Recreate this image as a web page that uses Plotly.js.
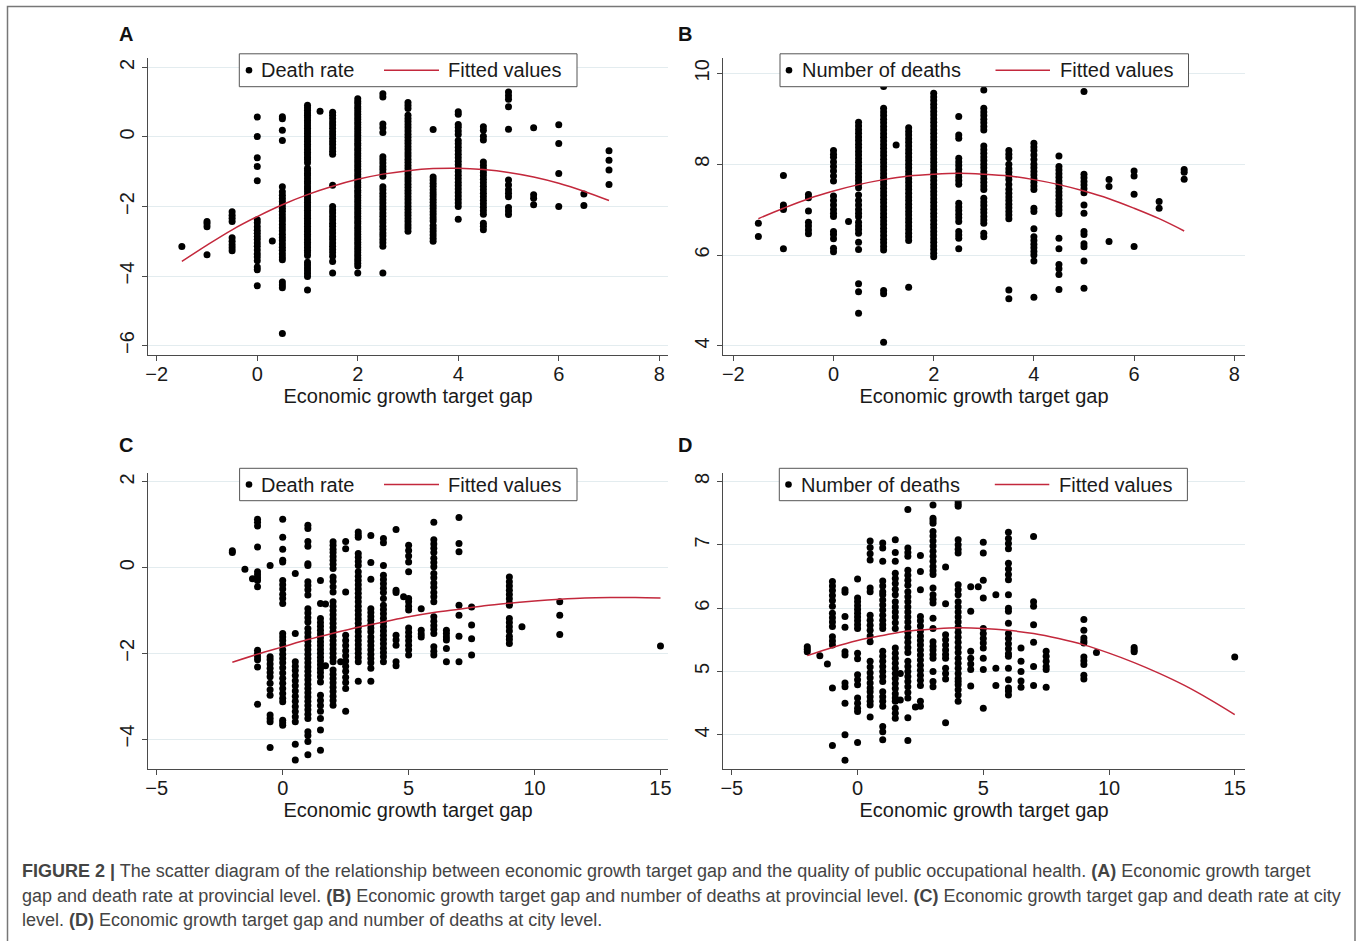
<!DOCTYPE html>
<html><head><meta charset="utf-8">
<script src="https://cdn.plot.ly/plotly-3.0.1.min.js"></script>
<style>html,body{margin:0;padding:0;background:#fff;} #chart{width:1357px;height:941px;}</style>
</head><body><div id="chart"></div>
<script>
// ---------- Panel A: provincial death rate ----------
var aColX = [-1.5, -1, -0.5, 0, 0.3, 0.5, 1, 1.25, 1.5, 2, 2.5, 3, 3.5, 4, 4.5, 5, 5.5, 6, 6.5, 7];
var aColY = [
 [-3.15],
 [-2.43, -2.5, -2.58, -3.39],
 [-2.15, -2.25, -2.34, -2.43, -2.9, -3.0, -3.1, -3.19, -3.27],
 [0.57, 0.01, -0.6, -0.85, -1.26, -2.38, -2.47, -2.58, -2.68, -2.77, -2.86, -2.95, -3.05, -3.14, -3.25, -3.36, -3.45, -3.56, -3.74, -3.82, -4.28],
 [-2.99],
 [0.58, 0.52, 0.19, -0.1, -1.43, -1.58, -1.68, -1.77, -1.86, -1.96, -2.05, -2.14, -2.24, -2.33, -2.42, -2.52, -2.61, -2.7, -2.8, -2.89, -2.98, -3.08, -3.17, -3.26, -3.36, -3.45, -3.53, -4.17, -4.26, -4.34, -5.65],
 [0.91, 0.84, 0.77, 0.69, 0.62, 0.55, 0.47, 0.4, 0.32, 0.25, 0.17, 0.1, 0.02, -0.06, -0.13, -0.21, -0.28, -0.36, -0.44, -0.51, -0.59, -0.66, -0.74, -0.9, -0.97, -1.05, -1.12, -1.2, -1.28, -1.35, -1.43, -1.5, -1.58, -1.66, -1.73, -1.81, -1.88, -1.96, -2.04, -2.11, -2.19, -2.27, -2.34, -2.42, -2.49, -2.57, -2.65, -2.72, -2.8, -2.87, -2.95, -3.03, -3.1, -3.18, -3.26, -3.33, -3.41, -3.6, -3.68, -3.77, -3.85, -3.93, -4.01, -4.4],
 [0.74],
 [0.71, 0.62, 0.53, 0.43, 0.34, 0.25, 0.15, 0.06, -0.04, -0.13, -0.22, -0.32, -0.41, -0.5, -1.39, -2.0, -2.1, -2.19, -2.29, -2.38, -2.48, -2.57, -2.67, -2.76, -2.86, -2.95, -3.05, -3.14, -3.24, -3.33, -3.43, -3.58, -3.91],
 [1.1, 1.02, 0.95, 0.87, 0.8, 0.72, 0.65, 0.57, 0.5, 0.42, 0.35, 0.27, 0.2, 0.12, 0.05, -0.03, -0.1, -0.18, -0.25, -0.33, -0.4, -0.48, -0.55, -0.63, -0.7, -0.78, -0.85, -0.93, -1.0, -1.08, -1.15, -1.23, -1.3, -1.38, -1.45, -1.53, -1.6, -1.68, -1.75, -1.83, -1.9, -1.98, -2.05, -2.13, -2.2, -2.28, -2.35, -2.43, -2.5, -2.58, -2.65, -2.73, -2.8, -2.88, -2.95, -3.03, -3.1, -3.18, -3.25, -3.33, -3.4, -3.48, -3.55, -3.63, -3.71, -3.91],
 [1.24, 1.15, 0.37, 0.26, 0.13, -0.57, -0.66, -0.75, -0.85, -0.94, -1.04, -1.13, -1.43, -1.52, -1.62, -1.71, -1.81, -1.9, -2.0, -2.09, -2.19, -2.28, -2.38, -2.47, -2.57, -2.66, -2.76, -2.85, -2.95, -3.04, -3.14, -3.91],
 [0.99, 0.9, 0.82, 0.62, 0.53, 0.44, 0.35, 0.26, 0.17, 0.08, -0.01, -0.1, -0.19, -0.28, -0.37, -0.46, -0.55, -0.64, -0.73, -0.82, -0.91, -1.0, -1.09, -1.18, -1.27, -1.36, -1.45, -1.54, -1.63, -1.72, -1.81, -1.9, -1.99, -2.08, -2.17, -2.26, -2.35, -2.44, -2.53, -2.62, -2.71],
 [0.21, -1.15, -1.24, -1.33, -1.42, -1.52, -1.61, -1.7, -1.79, -1.88, -1.97, -2.06, -2.15, -2.24, -2.33, -2.42, -2.55, -2.64, -2.73, -2.82, -2.91, -3.0],
 [0.72, 0.65, 0.36, 0.28, 0.17, 0.07, -0.1, -0.2, -0.3, -0.4, -0.5, -0.6, -0.7, -0.8, -0.9, -1.0, -1.1, -1.2, -1.3, -1.4, -1.5, -1.6, -1.7, -1.8, -1.9, -2.0, -2.37],
 [0.29, 0.19, 0.02, -0.09, -0.72, -0.82, -0.92, -1.02, -1.12, -1.22, -1.32, -1.42, -1.52, -1.62, -1.72, -1.82, -1.92, -2.02, -2.12, -2.22, -2.48, -2.57, -2.67],
 [1.29, 1.18, 1.08, 0.87, 0.22, -1.24, -1.38, -1.52, -1.62, -1.72, -2.03, -2.13, -2.23],
 [0.26, -1.66, -1.76, -1.95],
 [0.35, -0.19, -1.05, -2.0],
 [-1.64, -1.97],
 [-0.4, -0.67, -0.95, -1.37]
];
var aFitX = [-1.5, -1, -0.5, 0, 0.5, 1, 1.5, 2, 2.5, 3, 3.5, 4, 4.5, 5, 5.5, 6, 6.5, 7];
var aFitY = [-3.58, -3.11, -2.67, -2.29, -1.95, -1.66, -1.42, -1.22, -1.07, -0.97, -0.91, -0.90, -0.94, -1.02, -1.15, -1.33, -1.56, -1.83];

// ---------- Panel B: provincial number of deaths ----------
var bColX = [-1.5, -1, -0.5, 0, 0.3, 0.5, 1, 1.25, 1.5, 2, 2.5, 3, 3.5, 4, 4.5, 5, 5.5, 6, 6.5, 7];
var bColY = [
 [6.7, 6.41],
 [7.75, 7.1, 7.05, 7.0, 6.14],
 [7.33, 7.26, 6.97, 6.72, 6.64, 6.55, 6.47],
 [8.3, 8.22, 8.15, 8.05, 7.95, 7.85, 7.74, 7.63, 7.3, 7.2, 7.1, 7.0, 6.92, 6.85, 6.52, 6.45, 6.36, 6.15, 6.07],
 [6.74],
 [8.92, 8.84, 8.76, 8.68, 8.6, 8.52, 8.44, 8.36, 8.28, 8.2, 8.12, 8.04, 7.96, 7.88, 7.8, 7.72, 7.64, 7.56, 7.48, 7.32, 7.2, 7.1, 7.0, 6.92, 6.84, 6.72, 6.64, 6.56, 6.48, 6.28, 6.12, 5.37, 5.19, 4.72],
 [9.71, 9.23, 9.15, 9.07, 8.99, 8.91, 8.83, 8.75, 8.67, 8.59, 8.51, 8.43, 8.35, 8.27, 8.19, 8.11, 8.03, 7.95, 7.87, 7.79, 7.71, 7.63, 7.55, 7.47, 7.39, 7.31, 7.23, 7.15, 7.07, 6.99, 6.91, 6.83, 6.75, 6.67, 6.59, 6.51, 6.43, 6.35, 6.27, 6.19, 6.11, 5.22, 5.15, 4.08],
 [8.42],
 [8.8, 8.72, 8.64, 8.56, 8.48, 8.4, 8.32, 8.24, 8.16, 8.08, 8.0, 7.92, 7.84, 7.76, 7.68, 7.6, 7.52, 7.44, 7.36, 7.28, 7.2, 7.12, 7.04, 6.96, 6.88, 6.8, 6.72, 6.64, 6.56, 6.48, 6.4, 6.32, 5.29],
 [9.56, 9.48, 9.4, 9.32, 9.24, 9.16, 9.08, 9.0, 8.92, 8.84, 8.76, 8.68, 8.6, 8.52, 8.44, 8.36, 8.28, 8.2, 8.12, 8.04, 7.96, 7.88, 7.8, 7.72, 7.64, 7.56, 7.48, 7.4, 7.32, 7.24, 7.16, 7.08, 7.0, 6.92, 6.84, 6.76, 6.68, 6.6, 6.52, 6.44, 6.36, 6.28, 6.2, 6.12, 6.04, 5.96],
 [9.05, 8.64, 8.57, 8.13, 8.05, 7.97, 7.89, 7.8, 7.72, 7.64, 7.56, 7.14, 7.06, 6.98, 6.9, 6.82, 6.74, 6.52, 6.44, 6.37, 6.14],
 [9.63, 9.23, 9.15, 9.07, 8.99, 8.91, 8.83, 8.75, 8.4, 8.32, 8.24, 8.16, 8.08, 8.0, 7.92, 7.84, 7.76, 7.68, 7.6, 7.52, 7.44, 7.25, 7.17, 7.09, 7.01, 6.93, 6.85, 6.77, 6.7, 6.48, 6.4],
 [8.3, 8.22, 8.14, 8.0, 7.9, 7.82, 7.74, 7.66, 7.55, 7.45, 7.36, 7.28, 7.2, 7.12, 7.04, 6.96, 6.88, 6.8, 5.23, 5.04],
 [8.46, 8.38, 8.3, 8.2, 8.1, 8.0, 7.92, 7.84, 7.76, 7.68, 7.6, 7.52, 7.44, 7.03, 6.96, 6.58, 6.4, 6.32, 6.24, 6.16, 6.08, 6.0, 5.87, 5.07],
 [8.18, 7.95, 7.87, 7.79, 7.71, 7.63, 7.55, 7.47, 7.39, 7.31, 7.23, 7.15, 7.07, 6.99, 6.91, 6.37, 6.14, 5.79, 5.7, 5.57, 5.24],
 [9.6, 7.78, 7.7, 7.62, 7.54, 7.46, 7.37, 7.1, 6.92, 6.52, 6.45, 6.25, 6.18, 5.87, 5.27],
 [7.66, 7.51, 6.3],
 [7.85, 7.74, 7.34, 6.19],
 [7.18, 7.03],
 [7.88, 7.82, 7.67]
];
var bFitX = [-1.5, -1, -0.5, 0, 0.5, 1, 1.5, 2, 2.5, 3, 3.5, 4, 4.5, 5, 5.5, 6, 6.5, 7];
var bFitY = [6.80, 7.03, 7.24, 7.41, 7.55, 7.66, 7.74, 7.78, 7.80, 7.78, 7.74, 7.66, 7.55, 7.41, 7.24, 7.03, 6.80, 6.53];

// ---------- Panel C: city death rate ----------
var cColX = [-2, -1.5, -1.2, -1, -0.5, 0, 0.5, 1, 1.5, 1.7, 2, 2.3, 2.5, 3, 3.5, 4, 4.5, 4.8, 5, 5.5, 6, 6.5, 7, 7.5, 9, 9.5, 11, 15];
var cColY = [
 [0.39, 0.35],
 [-0.04],
 [-0.26],
 [1.13, 1.06, 0.97, 0.48, -0.1, -0.17, -0.24, -0.3, -0.45, -1.93, -2.0, -2.08, -2.15, -2.32, -3.19],
 [0.05, -2.08, -2.15, -2.25, -2.35, -2.45, -2.55, -2.7, -2.85, -2.98, -3.44, -3.52, -3.6, -4.2],
 [1.13, 0.71, 0.43, 0.17, 0.13, -0.3, -0.4, -0.5, -0.62, -0.72, -0.84, -1.54, -1.62, -1.7, -1.8, -1.92, -2.02, -2.12, -2.22, -2.34, -2.46, -2.58, -2.7, -2.82, -2.94, -3.05, -3.13, -3.56, -3.62, -3.68],
 [-0.14, -1.54, -2.2, -2.3, -2.4, -2.52, -2.64, -2.76, -2.88, -3.0, -3.12, -3.24, -3.36, -3.48, -3.6, -4.12, -4.49],
 [0.99, 0.91, 0.61, 0.5, 0.09, 0.05, -0.33, -0.42, -0.52, -0.64, -0.96, -1.06, -1.17, -1.27, -1.42, -1.52, -1.62, -1.72, -1.82, -1.92, -2.02, -2.12, -2.22, -2.32, -2.42, -2.52, -2.62, -2.72, -2.82, -2.92, -3.02, -3.12, -3.22, -3.32, -3.42, -3.52, -3.83, -3.92, -4.06, -4.37],
 [-0.3, -0.84, -1.19, -1.28, -1.37, -1.46, -1.55, -1.64, -1.73, -1.82, -1.91, -2.0, -2.09, -2.18, -2.27, -2.36, -2.45, -2.55, -2.67, -2.98, -3.1, -3.22, -3.35, -3.52, -3.79, -4.26],
 [-0.85, -2.29],
 [0.6, 0.52, 0.43, 0.35, 0.26, 0.17, 0.08, -0.02, -0.22, -0.32, -0.45, -0.57, -0.8, -0.9, -1.0, -1.1, -1.2, -1.3, -1.4, -1.5, -1.6, -1.7, -1.8, -1.9, -2.0, -2.1, -2.2, -2.39, -2.49, -2.59, -2.69, -2.79, -2.89, -3.0, -3.1, -3.21],
 [-2.2],
 [0.61, 0.44, -0.57, -1.58, -1.7, -1.82, -1.94, -2.06, -2.18, -2.3, -2.42, -2.56, -2.68, -2.82, -3.35],
 [0.83, 0.76, 0.71, 0.33, 0.24, 0.14, 0.05, -0.1, -0.2, -0.3, -0.4, -0.5, -0.6, -0.7, -0.8, -0.9, -1.0, -1.1, -1.2, -1.3, -1.4, -1.5, -1.6, -1.7, -1.8, -1.9, -2.0, -2.1, -2.2, -2.65],
 [0.75, 0.12, -0.27, -0.96, -1.05, -1.14, -1.23, -1.32, -1.41, -1.5, -1.62, -1.72, -1.82, -1.92, -2.02, -2.12, -2.22, -2.35, -2.65],
 [0.68, 0.58, 0.05, -0.18, -0.28, -0.38, -0.48, -0.58, -0.72, -0.88, -0.98, -1.08, -1.18, -1.28, -1.38, -1.48, -1.58, -1.68, -1.78, -1.88, -1.98, -2.08, -2.2],
 [0.89, -0.53, -0.58, -1.58, -1.69, -1.81, -2.2, -2.29],
 [-0.68],
 [0.52, 0.4, 0.27, 0.13, -0.1, -0.72, -0.8, -0.9, -0.99, -1.41, -1.51, -1.61, -1.71, -1.81, -1.92, -2.04],
 [-0.96, -1.46, -1.55, -1.62],
 [1.06, 0.65, 0.55, 0.45, 0.35, 0.22, 0.12, 0.02, -0.14, -0.24, -0.36, -0.46, -0.58, -0.68, -0.8, -1.15, -1.25, -1.35, -1.44, -1.54, -1.85, -1.95, -2.04],
 [-1.46, -1.54, -1.62, -1.69, -1.89, -2.2],
 [1.17, 0.56, 0.37, -0.88, -1.11, -1.6, -2.2],
 [-0.92, -1.34, -1.66, -2.04],
 [-0.22, -0.33, -0.43, -0.53, -0.63, -0.73, -0.83, -0.88, -1.19, -1.28, -1.38, -1.48, -1.6, -1.68, -1.77],
 [-1.38],
 [-0.8, -1.11, -1.56],
 [-1.83]
];
var cFitX = [-2, -1, 0, 1, 2, 3, 4, 5, 6, 7, 8, 9, 10, 11, 12, 13, 14, 15];
var cFitY = [-2.21, -2.02, -1.85, -1.68, -1.53, -1.39, -1.27, -1.15, -1.05, -0.97, -0.89, -0.83, -0.78, -0.74, -0.71, -0.70, -0.70, -0.71];

// ---------- Panel D: city number of deaths ----------
var dColX = [-2, -1.5, -1.2, -1, -0.5, 0, 0.5, 1, 1.5, 1.7, 2, 2.3, 2.5, 3, 3.5, 4, 4.5, 4.8, 5, 5.5, 6, 6.5, 7, 7.5, 9, 9.5, 11, 15];
var dColY = [
 [5.39, 5.35, 5.31],
 [5.25],
 [5.12],
 [6.42, 6.35, 6.28, 6.2, 6.12, 6.03, 5.92, 5.85, 5.78, 5.71, 5.55, 5.48, 5.42, 4.74, 3.83],
 [6.29, 6.25, 5.87, 5.7, 5.31, 5.26, 4.82, 4.76, 4.5, 4.0, 3.6],
 [6.46, 6.16, 6.1, 6.04, 5.98, 5.92, 5.86, 5.8, 5.74, 5.68, 5.29, 5.2, 4.95, 4.87, 4.79, 4.58, 4.5, 4.42, 4.37, 3.88],
 [7.06, 6.96, 6.86, 6.76, 6.32, 6.26, 5.89, 5.81, 5.73, 5.65, 5.56, 5.47, 5.16, 5.07, 4.98, 4.9, 4.82, 4.74, 4.68, 4.6, 4.53, 4.47, 4.28],
 [7.03, 6.95, 6.74, 6.43, 6.35, 6.26, 6.21, 6.13, 6.05, 5.97, 5.89, 5.81, 5.74, 5.68, 5.32, 5.24, 5.16, 5.08, 5.0, 4.92, 4.84, 4.68, 4.6, 4.53, 4.45, 4.13, 4.05, 3.92],
 [7.08, 6.88, 6.74, 6.55, 6.47, 6.39, 6.3, 6.21, 6.1, 6.02, 5.94, 5.86, 5.77, 5.68, 5.37, 5.29, 5.21, 5.13, 5.05, 4.97, 4.89, 4.81, 4.73, 4.65, 4.58, 4.53, 4.42, 4.34, 4.26],
 [4.97, 4.55],
 [7.56, 6.95, 6.88, 6.82, 6.6, 6.52, 6.44, 6.36, 6.26, 6.18, 6.1, 6.02, 5.94, 5.86, 5.78, 5.7, 5.62, 5.54, 5.46, 5.38, 5.3, 5.16, 5.08, 5.0, 4.92, 4.84, 4.76, 4.67, 4.58, 4.27, 3.91],
 [4.44],
 [6.83, 6.58, 6.29, 5.87, 5.8, 5.72, 5.64, 5.56, 5.49, 5.42, 5.34, 5.26, 5.18, 5.1, 5.02, 4.94, 4.86, 4.78, 4.53, 4.45],
 [7.63, 7.42, 7.38, 7.34, 7.21, 7.14, 7.06, 6.98, 6.9, 6.82, 6.74, 6.66, 6.59, 6.53, 6.32, 6.21, 6.14, 6.08, 5.84, 5.68, 5.47, 5.4, 5.34, 5.27, 5.21, 5.0, 4.84, 4.76],
 [6.65, 6.07, 5.58, 5.5, 5.42, 5.34, 5.27, 5.21, 5.05, 4.97, 4.88, 4.19],
 [7.68, 7.64, 7.61, 7.08, 7.0, 6.93, 6.87, 6.37, 6.29, 6.21, 6.1, 6.02, 5.94, 5.86, 5.78, 5.7, 5.62, 5.54, 5.46, 5.38, 5.3, 5.21, 5.13, 5.05, 4.97, 4.89, 4.84, 4.79, 4.71, 4.63, 4.53],
 [6.34, 5.95, 5.32, 5.21, 5.12, 5.03, 4.77],
 [6.34],
 [7.04, 6.87, 6.44, 6.16, 5.68, 5.6, 5.52, 5.45, 5.37, 5.21, 5.03, 4.42],
 [6.21, 5.05, 4.78],
 [7.2, 7.1, 7.02, 6.94, 6.71, 6.62, 6.53, 6.45, 6.21, 6.0, 5.95, 5.76, 5.6, 5.52, 5.44, 5.36, 5.28, 5.24, 5.05, 4.87, 4.74, 4.69, 4.63],
 [5.37, 5.16, 5.0, 4.85, 4.75],
 [7.13, 6.1, 6.03, 5.74, 5.46, 5.08, 4.78],
 [5.32, 5.24, 5.16, 5.08, 5.03, 4.75],
 [5.82, 5.65, 5.53, 5.48, 5.45, 5.23, 5.17, 5.11, 4.94, 4.88],
 [5.3],
 [5.38, 5.34, 5.31],
 [5.23]
];
var dFitX = [-2, -1, 0, 1, 2, 3, 4, 5, 6, 7, 8, 9, 10, 11, 12, 13, 14, 15];
var dFitY = [5.25, 5.38, 5.49, 5.57, 5.64, 5.67, 5.69, 5.68, 5.65, 5.60, 5.52, 5.42, 5.29, 5.14, 4.97, 4.78, 4.56, 4.32];

// ---------- labels ----------
var xTitle = 'Economic growth target gap';
var nameRate = 'Death rate';
var nameDeaths = 'Number of deaths';
var nameFit = 'Fitted values';
var panelLabels = ['A', 'B', 'C', 'D'];
var captionLines = [
 '<b>FIGURE 2 |</b> The scatter diagram of the relationship between economic growth target gap and the quality of public occupational health. <b>(A)</b> Economic growth target',
 'gap and death rate at provincial level. <b>(B)</b> Economic growth target gap and number of deaths at provincial level. <b>(C)</b> Economic growth target gap and death rate at city',
 'level. <b>(D)</b> Economic growth target gap and number of deaths at city level.'
];

// ---------- build ----------
function flatten(xs, ys) {
  var X = [], Y = [];
  xs.forEach(function (x, i) { ys[i].forEach(function (v) { X.push(x); Y.push(v); }); });
  return {x: X, y: Y};
}
var FONT = '"Liberation Sans", Arial, Helvetica, sans-serif';
var RED = '#c3283c';
var W = 1357, H = 941;

function scatterTrace(xs, ys, name, ax) {
  var f = flatten(xs, ys);
  return {type: 'scatter', mode: 'markers', x: f.x, y: f.y, name: name,
    xaxis: ax[0], yaxis: ax[1], showlegend: false,
    marker: {color: '#000', size: 7, line: {width: 0}}, hoverinfo: 'x+y'};
}
function fitTrace(xs, ys, ax) {
  return {type: 'scatter', mode: 'lines', x: xs, y: ys, name: nameFit,
    xaxis: ax[0], yaxis: ax[1], showlegend: false,
    line: {color: RED, width: 1.5, shape: 'spline'}};
}

var data = [
  scatterTrace(aColX, aColY, nameRate, ['x', 'y']),
  fitTrace(aFitX, aFitY, ['x', 'y']),
  scatterTrace(bColX, bColY, nameDeaths, ['x2', 'y2']),
  fitTrace(bFitX, bFitY, ['x2', 'y2']),
  scatterTrace(cColX, cColY, nameRate, ['x3', 'y3']),
  fitTrace(cFitX, cFitY, ['x3', 'y3']),
  scatterTrace(dColX, dColY, nameDeaths, ['x4', 'y4']),
  fitTrace(dFitX, dFitY, ['x4', 'y4'])
];

function px(v) { return v / W; }
function py(v) { return 1 - v / H; }

var AXC = '#4a4a4a';
function xAxis(domain, range, dtick, anchor) {
  return {domain: domain, range: range, dtick: dtick, tick0: 0, anchor: anchor,
    showline: true, linecolor: AXC, linewidth: 1, ticks: 'outside', ticklen: 5,
    tickcolor: AXC, tickwidth: 1, showgrid: false, zeroline: false, ticklabelstandoff: -4,
    tickfont: {family: FONT, size: 20, color: '#1a1a1a'},
    title: {text: xTitle, font: {family: FONT, size: 20, color: '#1a1a1a'}, standoff: 0},
    fixedrange: true};
}
function yAxis(domain, range, dtick, anchor) {
  return {domain: domain, range: range, dtick: dtick, tick0: 0, anchor: anchor,
    showline: true, linecolor: AXC, linewidth: 1, ticks: 'outside', ticklen: 5,
    tickcolor: AXC, tickwidth: 1, showgrid: true, gridcolor: '#e3ecef', gridwidth: 1,
    zeroline: false, tickangle: -90,
    tickfont: {family: FONT, size: 20, color: '#1a1a1a'}, fixedrange: true};
}

var xdL = [px(147.7), px(668.3)], xdR = [px(723.3), px(1244.8)];
var ydT = [py(355), py(58.3)], ydB = [py(769), py(473.3)];

var annotations = [];
var shapes = [];

// legends (box, marker dot, fit line, labels)
var legendBoxes = [
  {x0: 239.3, x1: 577, y0: 53.8, y1: 86.7, dot: 249, t1: 259, l0: 384, l1: 439, t2: 446, n1: nameRate},
  {x0: 780, x1: 1188.5, y0: 53.8, y1: 86.7, dot: 789, t1: 800, l0: 995.5, l1: 1050, t2: 1057.5, n1: nameDeaths},
  {x0: 239.6, x1: 577, y0: 468.3, y1: 500.7, dot: 249, t1: 259, l0: 384, l1: 439, t2: 446, n1: nameRate},
  {x0: 779.3, x1: 1187.4, y0: 468.3, y1: 500.7, dot: 788.5, t1: 799, l0: 994.8, l1: 1049.3, t2: 1056.5, n1: nameDeaths}
];
legendBoxes.forEach(function (L) {
  var cy = (L.y0 + L.y1) / 2;
  shapes.push({type: 'rect', xref: 'paper', yref: 'paper', x0: px(L.x0), x1: px(L.x1), y0: py(L.y1), y1: py(L.y0),
    line: {color: '#555', width: 1}, fillcolor: '#fff', layer: 'above'});
  shapes.push({type: 'circle', xref: 'paper', yref: 'paper', x0: px(L.dot - 3.3), x1: px(L.dot + 3.3),
    y0: py(cy + 3.3), y1: py(cy - 3.3), line: {width: 0}, fillcolor: '#000', layer: 'above'});
  shapes.push({type: 'line', xref: 'paper', yref: 'paper', x0: px(L.l0), x1: px(L.l1), y0: py(cy), y1: py(cy),
    line: {color: RED, width: 1.5}, layer: 'above'});
  annotations.push({text: L.n1, xref: 'paper', yref: 'paper', x: px(L.t1), y: py(cy),
    xanchor: 'left', yanchor: 'middle', showarrow: false, font: {family: FONT, size: 20, color: '#1a1a1a'}});
  annotations.push({text: nameFit, xref: 'paper', yref: 'paper', x: px(L.t2), y: py(cy),
    xanchor: 'left', yanchor: 'middle', showarrow: false, font: {family: FONT, size: 20, color: '#1a1a1a'}});
});

var labelPos = [[125.5, 34], [685.5, 34], [125.5, 445], [685.5, 445]];
panelLabels.forEach(function (t, i) {
  annotations.push({text: '<b>' + t + '</b>', xref: 'paper', yref: 'paper',
    x: px(labelPos[i][0]), y: py(labelPos[i][1]), xanchor: 'center', yanchor: 'middle',
    showarrow: false, font: {family: FONT, size: 20, color: '#111'}});
});
var capY = [871, 896, 920];
captionLines.forEach(function (t, i) {
  annotations.push({text: t, xref: 'paper', yref: 'paper', x: px(20), y: py(capY[i]),
    xanchor: 'left', yanchor: 'middle', align: 'left', showarrow: false,
    font: {family: FONT, size: 18, color: '#444'}});
});

shapes.push({type: 'rect', xref: 'paper', yref: 'paper', x0: px(7.5), x1: px(1355), y0: -0.02, y1: py(6.5),
  line: {color: '#777', width: 1.5}, fillcolor: 'rgba(0,0,0,0)', layer: 'below'});

var layout = {
  width: W, height: H, margin: {l: 0, r: 0, t: 0, b: 0},
  paper_bgcolor: '#fff', plot_bgcolor: '#fff', showlegend: false,
  font: {family: FONT},
  xaxis: xAxis(xdL, [-2.18, 8.18], 2, 'y'),
  yaxis: yAxis(ydT, [-6.27, 2.26], 2, 'x'),
  xaxis2: xAxis(xdR, [-2.2, 8.21], 2, 'y2'),
  yaxis2: yAxis(ydT, [3.8, 10.33], 2, 'x2'),
  xaxis3: xAxis(xdL, [-5.36, 15.31], 5, 'y3'),
  yaxis3: yAxis(ydB, [-4.7, 2.2], 2, 'x3'),
  xaxis4: xAxis(xdR, [-5.34, 15.4], 5, 'y4'),
  yaxis4: yAxis(ydB, [3.46, 8.13], 1, 'x4'),
  annotations: annotations,
  shapes: shapes
};

Plotly.newPlot('chart', data, layout, {displayModeBar: false, staticPlot: true});
</script>
</body></html>
